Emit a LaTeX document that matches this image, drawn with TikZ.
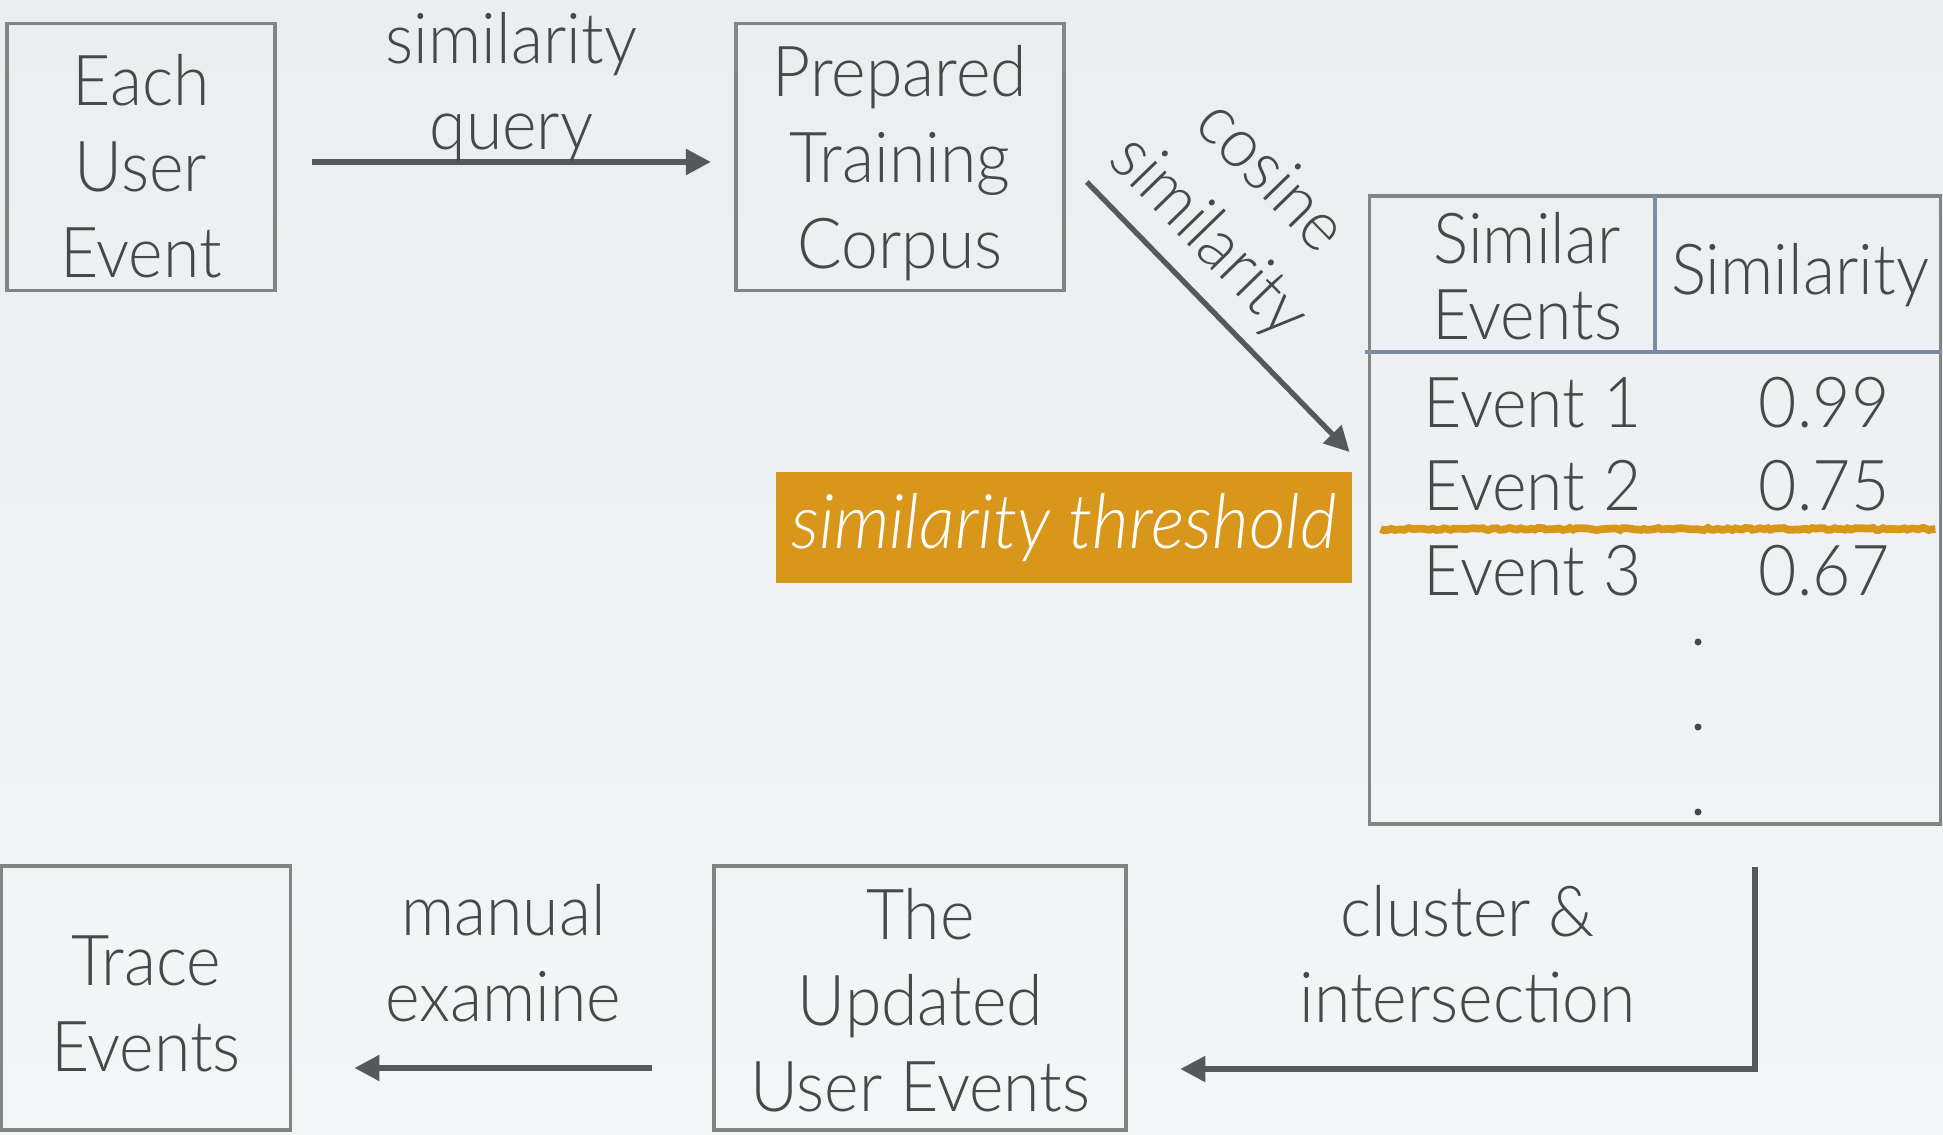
\documentclass[tikz,border=0pt]{standalone}
\usepackage{fontspec}
\setmainfont{Lato Light}[ItalicFont={Lato Light Italic},FakeStretch=0.94]
\usepackage{xcolor}
\definecolor{Paper}{HTML}{EBEDF0}
\definecolor{PaperLight}{HTML}{F4F5F7}
\definecolor{Frame}{HTML}{7F8583}
\definecolor{Ink}{HTML}{474949}
\definecolor{ArrowGray}{HTML}{545A5A}
\definecolor{Amber}{HTML}{D8971B}
\definecolor{Steel}{HTML}{7C8BA6}
\usepackage{tikz}
\usetikzlibrary{arrows.meta,positioning,calc,decorations.pathmorphing}

\begin{document}
\begin{tikzpicture}[
  font=\fontsize{20}{24.5}\selectfont,
  text=Ink,
  stagebox/.style={draw=Frame,line width=1.1pt,align=center,inner sep=0pt},
  arrow/.style={-{Triangle[length=0.25cm,width=0.25cm]},draw=ArrowGray,line width=1.5pt},
  edgetext/.style={align=center,inner sep=1pt},
  divider/.style={draw=Steel,line width=1.1pt},
  thrline/.style={draw=Amber,line width=2.2pt,decorate,decoration={random steps,segment length=1pt,amplitude=0.3pt}}
]
  \shade[top color=Paper,bottom color=PaperLight] (0,0) rectangle (19.43,11.34);
  \useasboundingbox (0,0) rectangle (19.43,11.34);

  \node[stagebox,text height=69pt,minimum width=2.68cm,minimum height=2.67cm] (each) at (1.41,9.77) {Each\\User\\Event};
  \node[stagebox,text height=67pt,minimum width=3.28cm,minimum height=2.67cm,right=4.57cm of each] (corpus) {Prepared\\Training\\Corpus};
  \node[stagebox,minimum width=5.71cm,minimum height=6.28cm] (tbl) at (16.55,6.24) {};
  \node[fill=Amber,text=white,font=\fontsize{21.5}{24}\selectfont\itshape,minimum width=5.76cm,minimum height=1.11cm,inner sep=0pt] (thr) at (10.64,6.06) {similarity threshold};
  \node[stagebox,text height=42pt,minimum width=2.89cm,minimum height=2.64cm] (trace) at (1.46,1.36) {Trace\\Events};
  \node[stagebox,text height=65pt,minimum width=4.12cm,minimum height=2.64cm,right=4.2cm of trace] (updated) {The\\Updated\\User Events};

  % table inside the result box
  \coordinate (hd) at (16.55,7.82);
  \draw[divider] (tbl.north) -- (hd);
  \draw[divider] ($(hd -| tbl.west)+(-0.03,0)$) -- (hd -| tbl.east);
  \node[align=center,inner sep=0pt,font=\fontsize{20}{21.5}\selectfont] (hev) at (15.27,8.58) {Similar\\Events};
  \node[inner sep=0pt] (hsim) at (18.0,8.59) {Similarity};
  \node[anchor=base west,inner sep=0pt] (ev1) at (14.23,7.06) {Event 1};
  \node[anchor=base east,inner sep=0pt] (sim1) at (18.9,7.06) {0.99};
  \node[anchor=base west,inner sep=0pt] (ev2) at (14.23,6.23) {Event 2};
  \node[anchor=base east,inner sep=0pt] (sim2) at (18.9,6.23) {0.75};
  \node[anchor=base west,inner sep=0pt] (ev3) at (14.23,5.39) {Event 3};
  \node[anchor=base east,inner sep=0pt] (sim3) at (18.9,5.39) {0.67};
  \fill[Ink] (16.98,4.92) circle (0.035) (16.98,4.07) circle (0.035) (16.98,3.22) circle (0.035);
  \draw[thrline] ($(thr.east -| tbl.west)+(0.13,-0.01)$) -- ($(thr.east -| tbl.east)+(-0.07,-0.01)$);

  \draw[arrow] ([shift={(0.35,-0.05)}]each.east) -- node[above=-0.06cm,edgetext] {similarity\\query} ([shift={(-0.23,-0.05)}]corpus.west);
  \draw[arrow] ([shift={(0.21,-0.25)}]corpus.east) -- node[pos=0.33,sloped,above=0.1cm,edgetext] {cosine\\similarity} ([shift={(-0.18,0.58)}]tbl.west);
  \draw[arrow] ([shift={(1.0,-0.41)}]tbl.south) |- node[pos=0.75,above=0.4cm,edgetext] {cluster \&\\intersection} ([shift={(0.52,-0.71)}]updated.east);
  \draw[arrow] ([shift={(-0.6,-0.7)}]updated.west) -- node[above=0.4cm,edgetext] {manual\\examine} ([shift={(0.62,-0.7)}]trace.east);
\end{tikzpicture}
\end{document}
